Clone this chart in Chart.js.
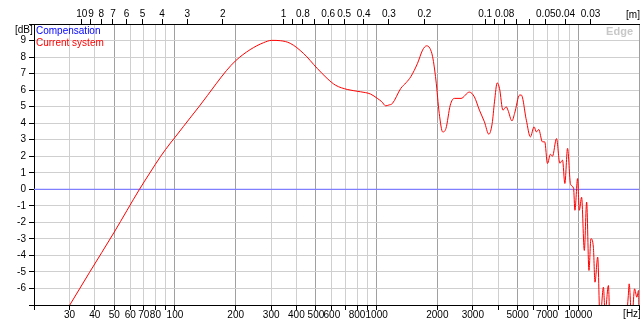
<!DOCTYPE html>
<html><head><meta charset="utf-8">
<script src="https://cdn.jsdelivr.net/npm/chart.js@4/dist/chart.umd.min.js"></script>
<style>html,body{margin:0;padding:0;background:#fff;}#wrap{width:640px;height:327px;}</style>
</head><body><div id="wrap"><canvas id="c" width="640" height="327"></canvas></div>
<script>
// ---- data ----
const freqHz = [20, 30, 37.6, 50, 66.7, 75, 85, 95, 100, 110, 120, 132, 145, 160, 180, 200, 236, 275, 302, 333, 373, 434, 507, 568, 625, 715, 832, 934, 1008, 1060, 1109, 1150, 1197, 1317, 1400, 1477, 1595, 1690, 1769, 1837, 1895, 1968, 2044, 2126, 2207, 2318, 2428, 2621, 2884, 3053, 3233, 3424, 3601, 3741, 3841, 3962, 4068, 4230, 4393, 4479, 4690, 4832, 5117, 5218, 5526, 5786, 6037, 6198, 6364, 6640, 6818, 7032, 7278, 7447, 7798, 8099, 8354, 8577, 8847, 9155, 9476, 9621, 9921, 10116, 10385, 10713, 11000, 11294, 11557, 11879, 12100, 12482, 12820, 13326, 13580, 14107, 14371, 15500, 17000, 17703, 17870, 18430, 19010, 19520, 19900, 20000];
const currentDb = [-10.55, -7.03, -5.05, -2.59, 0, 0.98, 2.0, 2.8, 3.14, 3.79, 4.38, 5.02, 5.68, 6.38, 7.18, 7.78, 8.45, 8.87, 9.01, 8.99, 8.83, 8.22, 7.32, 6.71, 6.30, 6.04, 5.90, 5.76, 5.50, 5.3, 5.05, 5.1, 5.19, 6.10, 6.45, 6.81, 7.62, 8.42, 8.68, 8.53, 8.02, 6.61, 4.59, 3.47, 3.68, 5.09, 5.50, 5.50, 5.88, 5.59, 4.79, 4.08, 3.33, 3.98, 5.29, 6.44, 6.10, 4.79, 4.99, 4.79, 4.14, 4.59, 5.70, 5.70, 4.18, 3.17, 3.78, 3.47, 3.62, 2.87, 2.87, 1.56, 2.12, 2.0, 3.07, 1.58, 1.76, 0.35, 2.48, 0.30, 0.06, -1.27, 0.65, -1.27, -0.48, -3.70, -0.77, -4.91, -2.99, -3.50, -5.62, -4.10, -8.0, -5.92, -7.5, -5.82, -8.5, -10, -9, -6.42, -5.72, -8.0, -6.02, -6.53, -6.12, -8.0];
const compFreqHz = [20, 20000];
const compDb = [0, 0];
const hzTicks = [20, 30, 40, 50, 60, 70, 80, 90, 100, 200, 300, 400, 500, 600, 700, 800, 900, 1000, 2000, 3000, 4000, 5000, 6000, 7000, 8000, 9000, 10000, 20000];
const hzLabels = [30, 40, 50, 60, 70, 80, 100, 200, 300, 400, 500, 600, 800, 1000, 2000, 3000, 5000, 7000, 10000];
const hzMajor = [50, 100, 200, 500, 1000, 2000, 5000, 10000, 20000];
const mTicks = [10, 9, 8, 7, 6, 5, 4, 3, 2, 1, 0.9, 0.8, 0.7, 0.6, 0.5, 0.4, 0.3, 0.2, 0.1, 0.09, 0.08, 0.07, 0.06, 0.05, 0.04, 0.03];
const mLabels = [10, 9, 8, 7, 6, 5, 4, 3, 2, 1, 0.8, 0.6, 0.5, 0.4, 0.3, 0.2, 0.1, 0.08, 0.05, 0.04, 0.03];
const dbLabels = [9, 8, 7, 6, 5, 4, 3, 2, 1, 0, -1, -2, -3, -4, -5, -6];
const SOUND_SPEED = 345;
const FREQ_MIN = 20, FREQ_MAX = 20000, DB_MIN = -7, DB_MAX = 10;

const FONT = '"Liberation Sans Narrow", "Liberation Sans", Arial, sans-serif';
Chart.defaults.font.family = FONT;
Chart.defaults.font.size = 10;
Chart.defaults.color = '#000';

const toPts = (xs, ys) => xs.map((x, i) => ({x, y: ys[i]}));

const overlay = {
  id: 'overlay',
  afterDraw(chart) {
    const ctx = chart.ctx, a = chart.chartArea;
    ctx.save();
    ctx.font = '10px ' + FONT;
    ctx.textBaseline = 'middle';
    ctx.textAlign = 'left';
    const ds = chart.data.datasets;
    ds.forEach((d, i) => {
      ctx.fillStyle = d.legendColor;
      ctx.fillText(d.label, a.left + 2, a.top + 7 + i * 12);
    });
    ctx.fillStyle = '#000';
    ctx.fillText('[dB]', 15, a.top + 6);
    ctx.textAlign = 'center';
    ctx.fillText('[Hz]', 632, 314);
    ctx.fillText('[m]', 633, 15);
    ctx.font = 'bold 11px "Liberation Sans", Arial, sans-serif';
    ctx.fillStyle = '#c8c8c8';
    ctx.textAlign = 'right';
    ctx.fillText('Edge', a.right - 6, a.top + 8);
    ctx.restore();
  }
};

new Chart(document.getElementById('c'), {
  type: 'line',
  data: {
    datasets: [
      {label: 'Compensation', data: toPts(compFreqHz, compDb), borderColor: '#8080ff', legendColor: '#0000ff', borderWidth: 1.2, pointRadius: 0, order: 1},
      {label: 'Current system', data: toPts(freqHz, currentDb), borderColor: '#ff0000', legendColor: '#ff0000', borderWidth: 1, pointRadius: 0, cubicInterpolationMode: 'monotone', order: 0}
    ]
  },
  options: {
    responsive: false, animation: false, devicePixelRatio: 1,
    layout: {padding: {left: 0, right: 1, top: 0, bottom: 0}},
    plugins: {legend: {display: false}, tooltip: {enabled: false}},
    scales: {
      x: {
        type: 'logarithmic', position: 'bottom', min: FREQ_MIN, max: FREQ_MAX,
        afterBuildTicks: s => { s.ticks = hzTicks.map(v => ({value: v})); },
        afterFit: s => { s.height = 22; },
        ticks: {autoSkip: false, maxRotation: 0, minRotation: 0, padding: -1,
          callback: v => hzLabels.includes(v) ? String(v) : ''},
        grid: {color: c => hzMajor.includes(c.tick && c.tick.value) ? '#a0a0a0' : '#cfcfcf', tickColor: '#000', tickLength: 5, lineWidth: 1},
        border: {color: '#000'}
      },
      x2: {
        axis: 'x', type: 'logarithmic', position: 'top', reverse: true,
        min: SOUND_SPEED / FREQ_MAX, max: SOUND_SPEED / FREQ_MIN,
        afterBuildTicks: s => { s.ticks = mTicks.map(v => ({value: v})); },
        afterFit: s => { s.height = 24; },
        ticks: {autoSkip: false, maxRotation: 0, minRotation: 0, padding: -1,
          callback: v => mLabels.includes(v) ? String(v) : ''},
        grid: {drawOnChartArea: false, tickColor: '#000', tickLength: 5},
        border: {color: '#000'}
      },
      y: {
        type: 'linear', position: 'left', min: DB_MIN, max: DB_MAX,
        afterBuildTicks: s => { s.ticks = [DB_MIN, ...dbLabels, DB_MAX].map(v => ({value: v})); },
        afterFit: s => { s.width = 34; },
        ticks: {autoSkip: false, padding: 3, callback: v => dbLabels.includes(v) ? String(v) : ''},
        grid: {color: '#cfcfcf', tickColor: '#000', tickLength: 5},
        border: {color: '#000'}
      }
    }
  },
  plugins: [overlay]
});
</script></body></html>
